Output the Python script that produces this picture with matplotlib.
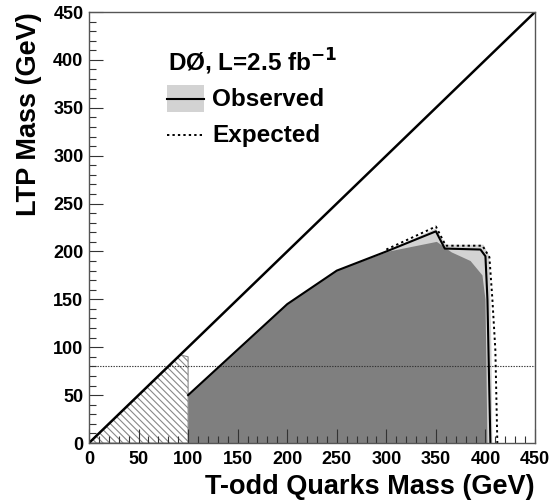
import matplotlib
matplotlib.use("Agg")
import matplotlib.pyplot as plt
from matplotlib.patches import Polygon, Rectangle
from matplotlib.lines import Line2D
from matplotlib.ticker import MultipleLocator

plt.rcParams['font.family'] = ['Liberation Sans', 'DejaVu Sans']
plt.rcParams['hatch.linewidth'] = 0.8
plt.rcParams['hatch.color'] = '#444444'

# Observed limit contour
obs_x = [100, 200, 250, 300, 350, 359, 395, 400, 402, 404, 405]
obs_y = [50, 145, 180, 200, 221, 203, 202, 195, 150, 50, 0]
# Expected limit contour
exp_x = [300, 350, 360, 397, 404, 407, 410, 412]
exp_y = [202, 226, 206, 206, 194, 150, 97, 0]
# Light band (upper edge)
band_x = [100, 100, 200, 250, 300, 350, 360, 398, 404, 406, 407]
band_y = [0, 50, 145, 180, 200, 224, 207, 207, 195, 100, 0]
# Dark excluded region
dark_x = [100, 100, 200, 250, 303, 351, 366, 385, 397, 400, 401, 402]
dark_y = [0, 50, 145, 180, 200, 210, 199, 190, 175, 150, 80, 0]
# Hatched region
hatch_x = [0, 92, 100, 100]
hatch_y = [0, 92, 90, 0]
lep_limit = 80

fig = plt.figure(figsize=(5.54, 5.03), dpi=100)
ax = fig.add_axes([89/554, 60/503, 446/554, 431/503])
ax.set_xlim(0, 450)
ax.set_ylim(0, 450)
ax.set_axisbelow(False)

ax.add_patch(Polygon(list(zip(band_x, band_y)), closed=True, facecolor='#d3d3d3', edgecolor='none', zorder=1))
ax.add_patch(Polygon(list(zip(dark_x, dark_y)), closed=True, facecolor='#7f7f7f', edgecolor='none', zorder=1.5))
ax.add_patch(Polygon(list(zip(hatch_x, hatch_y)), closed=True, facecolor='white', edgecolor='#888888',
                     hatch='\\\\\\\\\\', linewidth=0.8, zorder=1.5))
ax.plot(obs_x, obs_y, color='black', lw=1.5, zorder=4)
ax.plot(exp_x, exp_y, color='black', lw=1.4, linestyle=(0, (1.2, 1.6)), zorder=4)
ax.plot([0, 450], [0, 450], color='black', lw=1.8, zorder=5)
ax.axhline(lep_limit, color='#333333', lw=0.8, linestyle=(0, (1.2, 1.2)), zorder=3)

ax.xaxis.set_major_locator(MultipleLocator(50))
ax.xaxis.set_minor_locator(MultipleLocator(10))
ax.yaxis.set_major_locator(MultipleLocator(50))
ax.yaxis.set_minor_locator(MultipleLocator(10))
ax.tick_params(which='both', direction='in', top=False, right=False, width=0.8, color='#333333')
ax.tick_params(which='major', length=10, labelsize=13)
ax.tick_params(axis='x', which='major', pad=6)
ax.tick_params(axis='y', which='major', pad=4)
for lab in ax.get_xticklabels() + ax.get_yticklabels():
    lab.set_fontweight('bold')
ax.tick_params(which='minor', length=5)
for s in ax.spines.values():
    s.set_color('#555555')
    s.set_linewidth(1.0)
    s.set_zorder(6)

ax.set_xlabel('T-odd Quarks Mass (GeV)', fontsize=19.5, fontweight='bold', loc='right', labelpad=4)
ax.set_ylabel('LTP Mass (GeV)', fontsize=19.5, fontweight='bold', loc='top', labelpad=8)

# Legend (manual)
ax.text(0.177, 0.884, 'DØ, L=2.5 fb$^{\\mathbf{-1}}$', transform=ax.transAxes, fontsize=17.5,
        fontweight='bold', va='center', ha='left')
ax.add_patch(Rectangle((0.175, 0.768), 0.083, 0.063, transform=ax.transAxes,
                       facecolor='#d3d3d3', edgecolor='none', zorder=6))
ax.add_line(Line2D([0.175, 0.258], [0.799, 0.799], transform=ax.transAxes, color='black', lw=1.5, zorder=7))
ax.text(0.276, 0.797, 'Observed', transform=ax.transAxes, fontsize=17.5, fontweight='bold', va='center', ha='left')
ax.add_line(Line2D([0.175, 0.258], [0.715, 0.715], transform=ax.transAxes, color='black', lw=1.4,
                   linestyle=(0, (1.2, 1.6)), zorder=7))
ax.text(0.276, 0.713, 'Expected', transform=ax.transAxes, fontsize=17.5, fontweight='bold', va='center', ha='left')

fig.savefig('out.png', dpi=100)
